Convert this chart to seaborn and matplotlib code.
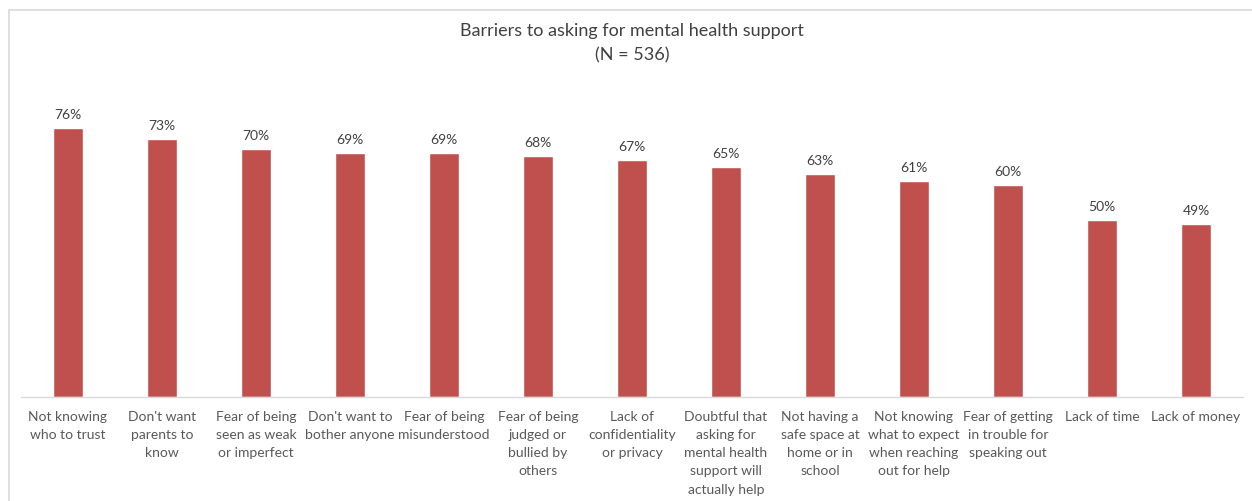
import matplotlib
matplotlib.use("Agg")
import matplotlib.pyplot as plt
import seaborn as sns
import pandas as pd
from matplotlib.patches import Rectangle

categories = [
    "Not knowing\nwho to trust",
    "Don't want\nparents to\nknow",
    "Fear of being\nseen as weak\nor imperfect",
    "Don't want to\nbother anyone",
    "Fear of being\nmisunderstood",
    "Fear of being\njudged or\nbullied by\nothers",
    "Lack of\nconfidentiality\nor privacy",
    "Doubtful that\nasking for\nmental health\nsupport will\nactually help",
    "Not having a\nsafe space at\nhome or in\nschool",
    "Not knowing\nwhat to expect\nwhen reaching\nout for help",
    "Fear of getting\nin trouble for\nspeaking out",
    "Lack of time",
    "Lack of money",
]
percentages = [76, 73, 70, 69, 69, 68, 67, 65, 63, 61, 60, 50, 49]
title_lines = ["Barriers to asking for mental health support", "(N = 536)"]

sns.set_theme(style="white")
plt.rcParams["font.family"] = ["Lato", "DejaVu Sans"]

W, H = 1252, 501
fig = plt.figure(figsize=(W / 100, H / 100), dpi=100)
fig.patch.set_facecolor("white")

# chart frame
fig.add_artist(Rectangle((9 / W, -0.1), 1.2, 1 - 10 / H + 0.1,
                         transform=fig.transFigure, fill=False,
                         edgecolor="#D9D9D9", linewidth=1.2))

ax_left, ax_right = 21 / W, 1243 / W
ax_bottom = (H - 397) / H
ax_top = (H - 60) / H
ax = fig.add_axes([ax_left, ax_bottom, ax_right - ax_left, ax_top - ax_bottom])

df = pd.DataFrame({"category": categories, "pct": percentages})
sns.barplot(data=df, x="category", y="pct", color="#C0504D", saturation=1,
            width=0.31, ax=ax)

px_per_pct = 269 / 76
ax.set_ylim(0, (397 - 60) / px_per_pct)
ax.set_xlim(-0.5, len(categories) - 0.5)

for c in ax.containers:
    ax.bar_label(c, labels=[f"{v:.0f}%" for v in percentages], padding=5,
                 fontsize=10, color="#404040")

ax.set_xlabel("")
ax.set_ylabel("")
ax.set_yticks([])
ax.tick_params(axis="x", length=0, pad=10, labelsize=10, labelcolor="#595959")
for lbl in ax.get_xticklabels():
    lbl.set_linespacing(1.62)
    lbl.set_verticalalignment("top")
for s in ["top", "left", "right"]:
    ax.spines[s].set_visible(False)
ax.spines["bottom"].set_color("#D9D9D9")
ax.spines["bottom"].set_linewidth(1.0)
ax.patch.set_alpha(0)

fig.text(632 / W, 1 - 31 / H, title_lines[0], ha="center", va="center",
         fontsize=13, color="#404040")
fig.text(632 / W, 1 - 55 / H, title_lines[1], ha="center", va="center",
         fontsize=13, color="#404040")

fig.savefig("out.png", dpi=100)
